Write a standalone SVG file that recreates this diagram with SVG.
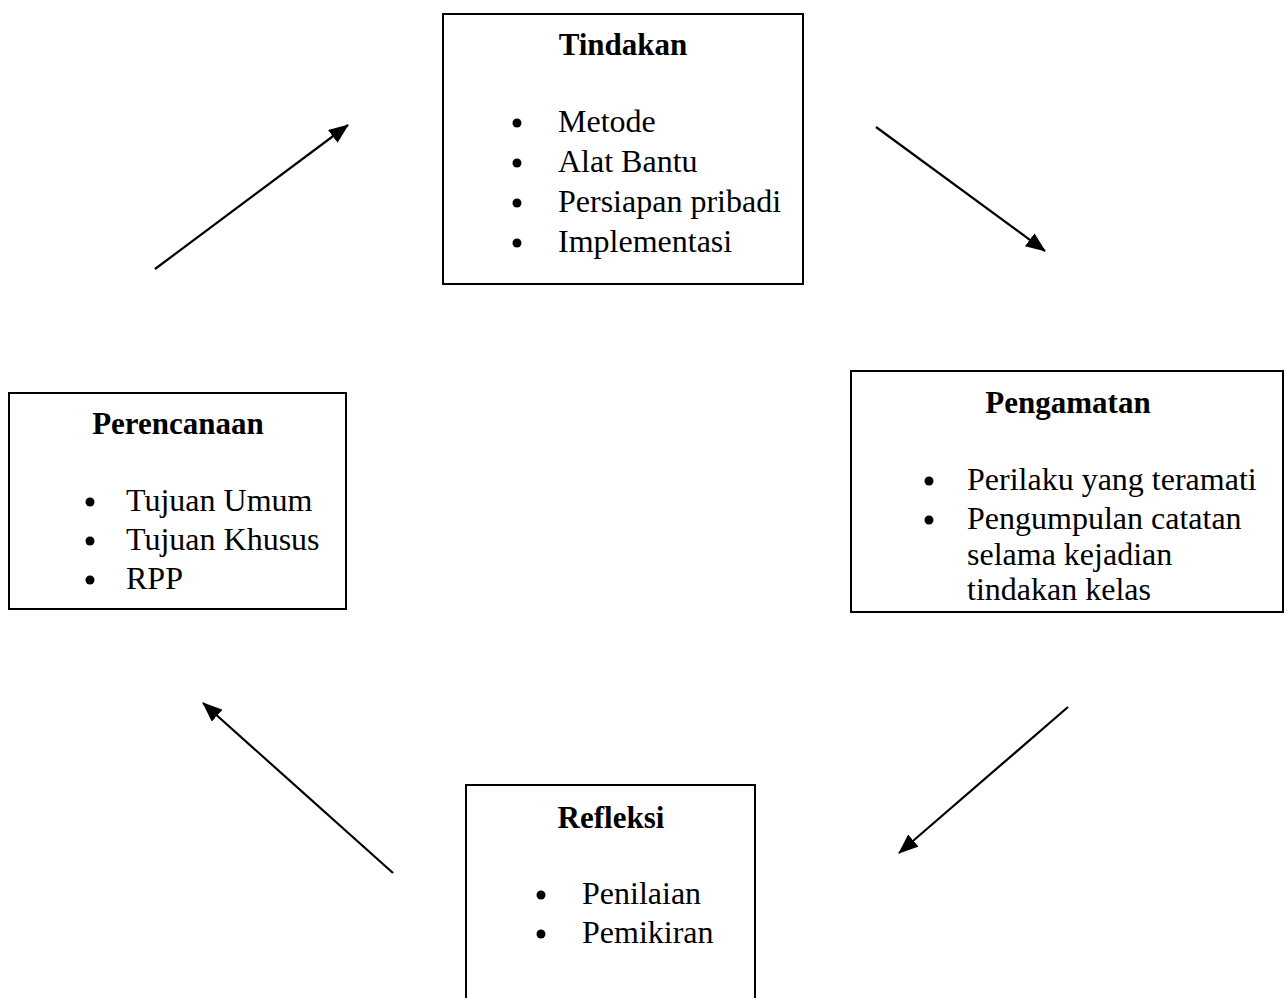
<svg xmlns="http://www.w3.org/2000/svg" width="1285" height="998" viewBox="0 0 1285 998">
<defs>
<style>
.box{fill:#fff;stroke:#000;stroke-width:2}
text{font-family:"Liberation Serif","Times New Roman",serif;font-size:32px;fill:#000}
.t{font-weight:bold;text-anchor:middle;font-size:31px}
.c{stroke:#000;stroke-width:2.2;fill:none}
</style>
<marker id="a" viewBox="0 0 20 16" refX="19" refY="8" markerWidth="20" markerHeight="16" markerUnits="userSpaceOnUse" orient="auto">
<path d="M0,0 L20,8 L0,16 z" fill="#000"/>
</marker>
</defs>
<g id="tindakan">
<rect class="box" x="443" y="14" width="360" height="270"/>
<text class="t" x="623" y="55">Tindakan</text>
<circle cx="517" cy="123" r="4.5"/><text x="558" y="132">Metode</text>
<circle cx="517" cy="163" r="4.5"/><text x="558" y="172">Alat Bantu</text>
<circle cx="517" cy="203" r="4.5"/><text x="558" y="212">Persiapan pribadi</text>
<circle cx="517" cy="243" r="4.5"/><text x="558" y="252">Implementasi</text>
</g>
<g id="perencanaan">
<rect class="box" x="9" y="393" width="337" height="216"/>
<text class="t" x="178" y="434">Perencanaan</text>
<circle cx="90" cy="502" r="4.5"/><text x="126" y="511">Tujuan Umum</text>
<circle cx="90" cy="541" r="4.5"/><text x="126" y="550">Tujuan Khusus</text>
<circle cx="90" cy="580" r="4.5"/><text x="126" y="589">RPP</text>
</g>
<g id="pengamatan">
<rect class="box" x="851" y="371" width="432" height="241"/>
<text class="t" x="1068" y="413">Pengamatan</text>
<circle cx="929" cy="481" r="4.5"/><text x="967" y="490">Perilaku yang teramati</text>
<circle cx="929" cy="520" r="4.5"/><text x="967" y="529">Pengumpulan catatan</text>
<text x="967" y="565">selama kejadian</text>
<text x="967" y="600">tindakan kelas</text>
</g>
<g id="refleksi">
<rect class="box" x="466" y="785" width="289" height="220"/>
<text class="t" x="611" y="828">Refleksi</text>
<circle cx="541" cy="895" r="4.5"/><text x="582" y="904">Penilaian</text>
<circle cx="541" cy="934" r="4.5"/><text x="582" y="943">Pemikiran</text>
</g>
<g id="connectors">
<line class="c" x1="155" y1="269" x2="348" y2="125" marker-end="url(#a)"/>
<line class="c" x1="876" y1="127" x2="1045" y2="251" marker-end="url(#a)"/>
<line class="c" x1="1068" y1="707" x2="899" y2="853" marker-end="url(#a)"/>
<line class="c" x1="393" y1="873" x2="203" y2="703" marker-end="url(#a)"/>
</g>
</svg>
